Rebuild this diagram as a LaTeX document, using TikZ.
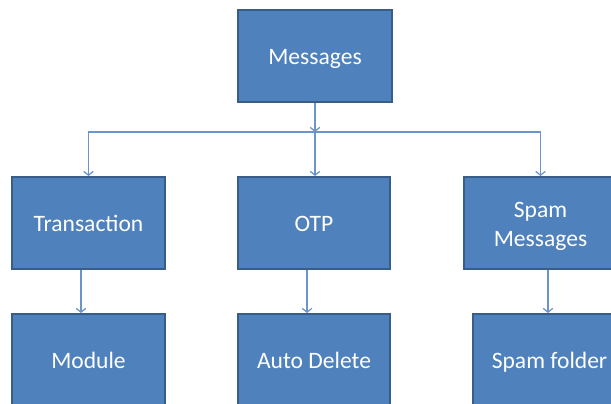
\documentclass[tikz,border=0pt]{standalone}
\usepackage{fontspec}
\setmainfont{Carlito}
\usetikzlibrary{arrows.meta}

\definecolor{boxfill}{HTML}{4F81BD}
\definecolor{boxline}{HTML}{385D8A}
\definecolor{linkcol}{HTML}{6A94CA}

\tikzset{
  box/.style={draw=boxline, fill=boxfill, line width=0.04cm, text=white,
    minimum width=3.06cm, minimum height=1.84cm, inner sep=0pt,
    align=center, font=\fontsize{13.4}{16.5}\selectfont},
  oneline/.style={text height=12.5pt, text depth=2.5pt},
  link/.style={linkcol, line width=0.7pt, -{Straight Barb[length=2.2pt,width=5.5pt]}}
}

\begin{document}
\begin{tikzpicture}[x=0.02cm,y=-0.02cm]

\useasboundingbox (0,0) rectangle (611,403);
\clip (0,0) rectangle (611,403);

% top level
\node[box, oneline, minimum width=3.08cm] (msg) at (315,56) {Messages};
\coordinate (hub) at (315,132);

% second level
\node[box, oneline] (trans) at (88.5,223) {Transaction};
\node[box, oneline] (otp) at (314,223) {OTP};
\node[box] (spam) at (540.5,223) {\rule{0pt}{12pt}Spam\\Messages};

% third level
\node[box, oneline] (module) at (88.5,360) {Module};
\node[box, oneline] (autodel) at (314,360) {Auto Delete};
\node[box, oneline] (folder) at (549.5,360) {Spam folder};

% connectors
\draw[link] (msg.south) -- (hub);
\draw[link] (hub) -| (trans.north);
\draw[link] (hub) -- (otp.north -| hub);
\draw[link] (hub) -| (spam.north);

\draw[link] ([xshift=-0.15cm]trans.south) -- ([xshift=-0.15cm]trans.south |- module.north);
\draw[link] ([xshift=-0.14cm]otp.south) -- ([xshift=-0.14cm]otp.south |- autodel.north);
\draw[link] ([xshift=0.15cm]spam.south) -- ([xshift=0.15cm]spam.south |- folder.north);
\end{tikzpicture}
\end{document}
